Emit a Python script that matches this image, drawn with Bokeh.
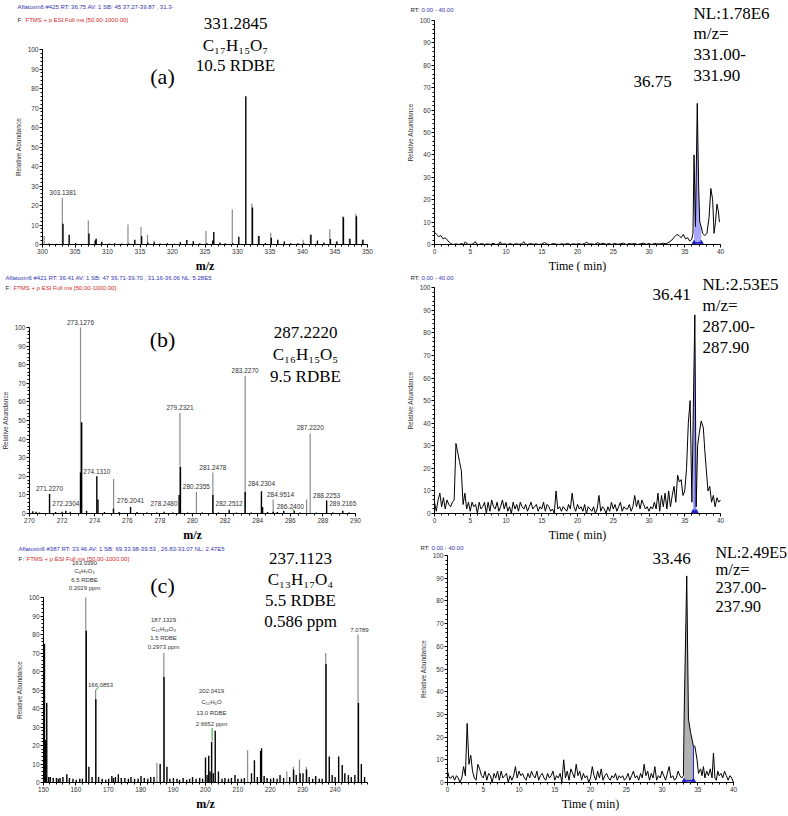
import numpy as np
from bokeh.plotting import figure
from bokeh.models import Range1d, FixedTicker, Label
from bokeh.layouts import column, row
from bokeh.embed import file_html
from bokeh.resources import INLINE

SANS = "Liberation Sans"
SERIF = "Liberation Serif"
HDR_BLUE = "#3434b4"
HDR_RED = "#d42a2a"
PEAK_GRAY = "#8c8c8c"
INT_BLUE = "#2020d0"

# ---------------- data ----------------
Y_TICKS = list(range(0, 101, 10))
Y_MINOR = list(range(0, 101, 2))
A_MZ_TICKS = list(range(300, 351, 5))
B_MZ_TICKS = list(range(270, 291, 2))
C_MZ_TICKS = list(range(150, 241, 10))
RT_TICKS = list(range(0, 41, 5))

# (m/z, relative abundance)
SPEC_A_BLACK = [(303.15, 10.6), (304.1, 5.0), (305.1, 0.8), (307.15, 5.7), (308.1, 2.0), (308.25, 3.0),
                (309.1, 1.3), (311.1, 0.6), (312.2, 0.5), (314.2, 2.5), (315.25, 4.2), (316.2, 1.0),
                (317.2, 1.0), (318.1, 0.5), (319.2, 0.7), (321.2, 1.2), (322.2, 2.3), (323.2, 1.7),
                (324.2, 0.6), (326.2, 2.0), (326.35, 6.4), (327.3, 1.0), (328.1, 0.6), (330.2, 4.0),
                (331.28, 76.0), (332.3, 19.0), (333.3, 4.3), (334.3, 0.8), (335.2, 3.5), (336.2, 2.4),
                (337.2, 1.5), (338.2, 0.7), (339.3, 0.6), (340.2, 0.6), (341.3, 5.0), (342.3, 2.0),
                (343.3, 1.0), (344.3, 2.8), (345.3, 1.5), (346.3, 14.0), (347.3, 3.0), (348.3, 14.5),
                (349.3, 2.4), (301.0, 0.5), (302.2, 0.4), (306.0, 0.3), (310.3, 0.5), (313.3, 0.5),
                (320.3, 0.4), (325.3, 0.6), (329.3, 0.6)]
SPEC_A_GRAY = [(300.25, 4.3), (303.05, 24.0), (307.05, 12.3), (308.2, 2.5), (309.15, 1.5), (313.15, 10.2),
               (315.15, 9.0), (316.15, 5.0), (317.15, 2.0), (325.15, 7.1), (329.2, 18.0), (332.2, 21.0),
               (333.2, 4.5), (335.1, 6.0), (340.1, 2.4), (341.2, 5.0), (344.2, 8.0), (345.2, 1.5),
               (346.2, 14.6), (347.2, 3.0), (348.2, 15.8), (349.2, 2.4)]
SPEC_A_LABELS = [("303.1381", 303.14, 26.5)]

SPEC_B_BLACK = [(270.2, 1.2), (270.4, 1.0), (270.6, 0.5), (271.23, 10.5), (271.6, 0.8), (272.0, 1.0),
                (272.23, 1.5), (272.5, 1.0), (273.13, 22.0), (273.2, 49.0), (273.5, 1.5), (274.13, 20.0),
                (274.2, 7.5), (274.6, 0.8), (275.15, 2.5), (275.5, 0.8), (276.2, 3.5), (276.6, 0.8),
                (277.2, 0.5), (277.8, 0.5), (278.25, 1.0), (278.8, 0.5), (279.18, 10.0), (279.26, 25.0),
                (279.7, 0.6), (280.6, 0.5), (281.25, 10.0), (281.6, 0.6), (282.25, 2.0), (282.7, 0.5),
                (283.23, 11.5), (283.6, 0.6), (284.23, 12.0), (284.3, 3.5), (284.6, 0.8), (284.95, 1.0),
                (285.2, 0.8), (285.6, 1.5), (286.24, 1.5), (286.6, 0.5), (287.6, 0.5), (288.23, 7.0),
                (288.6, 0.6), (289.22, 1.5), (289.6, 0.6)]
SPEC_B_GRAY = [(273.13, 100.0), (279.23, 54.0), (283.23, 74.0), (287.22, 43.0), (275.16, 18.5),
               (280.24, 11.5), (281.25, 22.0), (284.95, 7.5), (287.0, 7.5)]
SPEC_B_LABELS = [("273.1276", 273.13, 102.5), ("279.2321", 279.23, 57.0), ("283.2270", 283.23, 77.0),
                 ("287.2220", 287.22, 46.5), ("274.1310", 274.13, 22.7), ("271.2270", 271.23, 13.4),
                 ("272.2304", 272.23, 5.4), ("276.2041", 276.2, 7.0), ("278.2480", 278.25, 5.4),
                 ("280.2355", 280.24, 14.5), ("281.2478", 281.25, 25.0), ("282.2512", 282.25, 5.4),
                 ("284.2304", 284.23, 16.0), ("284.9514", 285.4, 10.2), ("286.2400", 286.0, 3.6),
                 ("288.2253", 288.23, 9.7), ("289.2165", 289.22, 5.4)]

SPEC_C_GRAY = [(163.04, 100.0), (187.13, 70.0), (237.11, 70.0), (247.08, 80.0), (166.09, 50.0),
               (185.0, 10.5), (213.0, 17.5), (229.0, 12.5), (227.1, 8.5), (231.1, 8.5), (225.1, 6.0)]
SPEC_C_BLACK = [(150.3, 75), (150.6, 23), (151.0, 43), (151.6, 3), (152.1, 3), (153.0, 2.5), (154.0, 2.5),
                (154.6, 2), (155.1, 2.5), (156.0, 3), (157.2, 4.5), (158.0, 2.5), (159.1, 2), (160.1, 1.5),
                (161.2, 2), (162.0, 2), (163.2, 82), (164.0, 8.5), (165.0, 3), (166.15, 45), (167.0, 3),
                (168.1, 2), (169.2, 1.5), (170.1, 2), (171.1, 3.5), (171.6, 2.5), (172.2, 3), (173.1, 4.5),
                (174.0, 2.5), (175.1, 2.5), (176.2, 2), (177.0, 3), (178.1, 2), (179.2, 2), (180.1, 3.5),
                (181.1, 2.5), (182.2, 2), (183.1, 3), (184.1, 3), (186.0, 10), (187.2, 57), (188.1, 8.5),
                (189.0, 2), (190.1, 2.5), (191.2, 2), (192.0, 1.5), (193.1, 2.5), (194.2, 1.5), (195.1, 2),
                (196.0, 3), (197.1, 2), (198.2, 2.5), (199.1, 2), (200.0, 13.5), (200.5, 4), (201.0, 14.5),
                (201.4, 6), (201.9, 22), (202.4, 5), (203.0, 28), (204.0, 6), (205.1, 2), (206.0, 2.5),
                (207.1, 2), (208.0, 2.5), (209.1, 4), (210.0, 2), (211.1, 2), (212.0, 2.5), (214.2, 5),
                (215.1, 12), (216.0, 3), (217.0, 17), (217.3, 18.5), (218.1, 3.5), (219.0, 2.5), (220.1, 2),
                (221.0, 2.5), (222.1, 2), (223.0, 4), (224.1, 2.5), (226.0, 3), (227.2, 7), (228.0, 4),
                (229.2, 5), (230.1, 5), (231.2, 7), (232.0, 3), (233.1, 2), (234.0, 3.5), (235.1, 2),
                (236.0, 2), (237.2, 64), (238.2, 14), (239.1, 4), (240.0, 3), (241.1, 14), (242.2, 9.5),
                (243.0, 5), (244.1, 4), (245.0, 3), (246.1, 4), (247.2, 43), (248.1, 10), (249.1, 3)]

# chromatograms: (time in min, relative abundance)
XIC_A = [(0.0, 5.5), (0.3, 4.5), (0.6, 3.5), (0.9, 4.0), (1.2, 2.5), (1.5, 3.0), (1.8, 2.0), (2.1, 0.8),
         (2.4, 0.2), (2.7, 0.0), (3.0, 0.3), (3.4, 0.0), (3.8, 0.4), (4.1, 0.0), (4.3, 1.2), (4.6, 0.2),
         (5.0, 0.0), (5.4, 0.3), (5.7, 1.3), (5.9, 0.2), (6.2, 0.0), (6.6, 0.4), (7.0, 0.0), (7.4, 0.3),
         (7.8, 0.0), (8.2, 0.5), (8.6, 0.0), (9.0, 0.2), (9.2, 1.2), (9.4, 0.1), (9.8, 0.3), (10.2, 0.0),
         (10.6, 0.4), (11.0, 0.0), (11.4, 0.3), (11.8, 0.1), (12.2, 0.3), (12.5, 1.2), (12.7, 0.2),
         (13.0, 0.0), (13.4, 0.4), (13.8, 0.1), (14.2, 0.3), (14.6, 0.0), (15.0, 0.2), (15.4, 0.9),
         (15.8, 0.1), (16.2, 0.0), (16.6, 0.4), (17.0, 0.2), (17.4, 0.0), (17.8, 0.3), (18.2, 0.1),
         (18.6, 0.5), (19.0, 0.0), (19.4, 0.3), (19.8, 0.1), (20.2, 0.4), (20.6, 0.0), (21.0, 0.5),
         (21.3, 1.0), (21.6, 0.2), (22.0, 0.3), (22.4, 0.0), (22.8, 0.8), (23.2, 0.2), (23.6, 0.5),
         (24.0, 0.1), (24.4, 0.4), (24.8, 0.0), (25.2, 0.5), (25.6, 0.1), (26.0, 0.3), (26.4, 0.6),
         (26.8, 0.0), (27.2, 0.4), (27.6, 0.2), (28.0, 0.5), (28.4, 0.0), (28.8, 0.3), (29.2, 0.6),
         (29.6, 0.1), (30.0, 0.4), (30.4, 0.0), (30.8, 0.5), (31.2, 0.2), (31.6, 0.3), (32.0, 0.6),
         (32.4, 0.3), (32.8, 1.0), (33.2, 2.0), (33.6, 3.5), (33.9, 4.5), (34.2, 4.0), (34.5, 3.0),
         (34.8, 4.5), (35.1, 2.5), (35.4, 3.0), (35.7, 1.5), (36.0, 2.5), (36.15, 5.0), (36.3, 40.0),
         (36.5, 8.0), (36.75, 63.0), (36.95, 25.0), (37.1, 10.0), (37.3, 8.0), (37.5, 5.0), (37.8, 4.0),
         (38.1, 5.0), (38.4, 12.0), (38.65, 25.0), (38.9, 20.0), (39.1, 5.0), (39.3, 10.0), (39.5, 18.0),
         (39.7, 15.0), (39.85, 10.0)]
XIC_B = [(0.0, 5), (0.25, 1), (0.5, 6), (0.75, 9), (1.0, 3), (1.25, 7), (1.5, 2), (1.75, 6),
         (2.0, 4), (2.25, 3), (2.5, 5), (2.75, 6), (3.0, 31), (3.25, 27), (3.5, 23), (3.75, 19),
         (4.0, 4), (4.25, 9), (4.5, 2), (4.75, 5), (5.0, 1), (5.25, 5), (5.5, 3), (5.75, 4),
         (6.0, 0), (6.25, 5), (6.5, 2), (6.75, 3), (7.0, 5), (7.25, 0), (7.5, 5), (7.75, 1),
         (8.0, 6), (8.25, 3), (8.5, 2), (8.75, 5), (9.0, 1), (9.25, 3), (9.5, 6), (9.75, 2),
         (10.0, 5), (10.25, 1), (10.5, 3), (10.75, 0), (11.0, 5), (11.25, 2), (11.5, 4), (11.75, 1),
         (12.0, 5), (12.25, 3), (12.5, 2), (12.75, 4), (13.0, 1), (13.25, 3), (13.5, 5), (13.75, 2),
         (14.0, 3), (14.25, 4), (14.5, 1), (14.75, 3), (15.0, 2), (15.25, 5), (15.5, 1), (15.75, 4),
         (16.0, 3), (16.25, 1), (16.5, 2), (16.75, 0), (17.0, 10), (17.25, 2), (17.5, 3), (17.75, 1),
         (18.0, 3), (18.25, 2), (18.5, 1), (18.75, 4), (19.0, 2), (19.25, 9), (19.5, 3), (19.75, 1),
         (20.0, 4), (20.25, 2), (20.5, 3), (20.75, 1), (21.0, 4), (21.25, 0), (21.5, 3), (21.75, 2),
         (22.0, 1), (22.25, 3), (22.5, 0), (22.75, 2), (23.0, 8), (23.25, 1), (23.5, 3), (23.75, 2),
         (24.0, 0), (24.25, 3), (24.5, 1), (24.75, 5), (25.0, 2), (25.25, 4), (25.5, 1), (25.75, 3),
         (26.0, 5), (26.25, 1), (26.5, 3), (26.75, 2), (27.0, 2), (27.25, 4), (27.5, 1), (27.75, 3),
         (28.0, 8), (28.25, 3), (28.5, 6), (28.75, 2), (29.0, 6), (29.25, 4), (29.5, 2), (29.75, 3),
         (30.0, 1), (30.25, 3), (30.5, 2), (30.75, 5), (31.0, 2), (31.25, 9), (31.5, 1), (31.75, 8),
         (32.0, 3), (32.25, 9), (32.5, 2), (32.75, 10), (33.0, 3), (33.25, 8), (33.5, 12), (33.75, 5),
         (34.0, 17), (34.25, 14), (34.5, 15), (34.75, 8), (35.0, 10), (35.25, 20), (35.5, 40), (35.75, 50),
         (36.0, 5), (36.2, 47), (36.41, 88), (36.6, 3), (36.8, 30), (37.0, 35), (37.3, 41), (37.6, 38),
         (37.8, 28), (38.0, 20), (38.25, 10), (38.5, 12), (38.75, 5), (39.0, 8), (39.25, 3), (39.5, 7),
         (39.75, 5), (40.0, 6)]
XIC_C = [(0.0, 5), (0.25, 2), (0.5, 2), (0.75, 3), (1.0, 1), (1.25, 3), (1.5, 2), (1.75, 0),
         (2.0, 2), (2.25, 7), (2.5, 3), (2.75, 26), (3.0, 8), (3.25, 12), (3.5, 5), (3.75, 2),
         (4.0, 1), (4.25, 8), (4.5, 6), (4.75, 3), (5.0, 2), (5.25, 5), (5.5, 1), (5.75, 4),
         (6.0, 3), (6.25, 0), (6.5, 4), (6.75, 2), (7.0, 5), (7.25, 1), (7.5, 5), (7.75, 2),
         (8.0, 3), (8.25, 4), (8.5, 0), (8.75, 3), (9.0, 1), (9.25, 3), (9.5, 7), (9.75, 2),
         (10.0, 5), (10.25, 3), (10.5, 4), (10.75, 2), (11.0, 1), (11.25, 4), (11.5, 2), (11.75, 5),
         (12.0, 3), (12.25, 2), (12.5, 5), (12.75, 1), (13.0, 3), (13.25, 4), (13.5, 2), (13.75, 1),
         (14.0, 4), (14.25, 2), (14.5, 3), (14.75, 5), (15.0, 1), (15.25, 3), (15.5, 2), (15.75, 4),
         (16.0, 0), (16.25, 10), (16.5, 2), (16.75, 5), (17.0, 1), (17.25, 6), (17.5, 4), (17.75, 2),
         (18.0, 8), (18.25, 3), (18.5, 5), (18.75, 1), (19.0, 4), (19.25, 2), (19.5, 3), (19.75, 0),
         (20.0, 2), (20.25, 7), (20.5, 3), (20.75, 1), (21.0, 5), (21.25, 2), (21.5, 6), (21.75, 1),
         (22.0, 3), (22.25, 4), (22.5, 2), (22.75, 1), (23.0, 3), (23.25, 2), (23.5, 4), (23.75, 1),
         (24.0, 3), (24.25, 2), (24.5, 3), (24.75, 1), (25.0, 2), (25.25, 4), (25.5, 1), (25.75, 3),
         (26.0, 5), (26.25, 2), (26.5, 3), (26.75, 1), (27.0, 4), (27.25, 2), (27.5, 8), (27.75, 3),
         (28.0, 5), (28.25, 1), (28.5, 4), (28.75, 2), (29.0, 7), (29.25, 1), (29.5, 3), (29.75, 2),
         (30.0, 5), (30.25, 3), (30.5, 1), (30.75, 4), (31.0, 7), (31.25, 2), (31.5, 3), (31.75, 1),
         (32.0, 2), (32.25, 5), (32.5, 3), (32.75, 2), (33.0, 3), (33.1, 30), (33.46, 91), (33.7, 28),
         (34.0, 22), (34.4, 16), (34.6, 16), (34.9, 10), (35.1, 4), (35.4, 6), (35.6, 3), (35.8, 7),
         (36.0, 2), (36.25, 5), (36.5, 3), (36.75, 6), (37.0, 2), (37.2, 13), (37.4, 2), (37.6, 1),
         (37.8, 5), (38.0, 3), (38.25, 4), (38.5, 2), (38.75, 5), (39.0, 3), (39.25, 1), (39.5, 3),
         (39.75, 2), (40.0, 0)]
# integration windows (min)
INT_A = (36.3, 37.3)
INT_B = (36.2, 36.6)
INT_C = (33.1, 34.4)

# ---------------- geometry (px) ----------------
# fx, fy: figure's top-left on the page; fl: axis x offset; bb: space under the x axis
GA_L = dict(fx=0, fy=0, w=400, h=272, fl=42, bb=28, x0=300, sx=6.5, sy=1.95)
GA_R = dict(fx=400, fy=0, w=388, h=272, fl=34, bb=28, x0=0, sx=7.15, sy=2.24)
GB_L = dict(fx=0, fy=272, w=400, h=271, fl=29, bb=30, x0=270, sx=16.3, sy=1.86)
GB_R = dict(fx=400, fy=272, w=388, h=271, fl=34, bb=30, x0=0, sx=7.15, sy=2.257)
GC_L = dict(fx=0, fy=543, w=400, h=273, fl=43, bb=34, x0=150, sx=3.24, sy=1.85)
GC_R = dict(fx=400, fy=543, w=388, h=273, fl=47, bb=34, x0=0, sx=7.15, sy=2.27)


def make_panel(g, x_bounds, x_ticks, x_minor, x_label, bold):
    x_start = g["x0"] - g["fl"] / g["sx"]
    x_end = g["x0"] + (g["w"] - g["fl"]) / g["sx"]
    y_start = -g["bb"] / g["sy"]
    y_end = (g["h"] - g["bb"]) / g["sy"]
    p = figure(width=g["w"], height=g["h"], output_backend="svg", toolbar_location=None, title=None,
               x_range=Range1d(x_start, x_end), y_range=Range1d(y_start, y_end),
               min_border=0, min_border_left=0, min_border_right=0, min_border_top=0, min_border_bottom=0)
    p.outline_line_color = None
    p.xgrid.visible = False
    p.ygrid.visible = False
    p.background_fill_color = "white"
    p.border_fill_color = "white"
    xa = p.xaxis[0]
    ya = p.yaxis[0]
    xa.fixed_location = 0
    ya.fixed_location = g["x0"]
    xa.ticker = FixedTicker(ticks=x_ticks, minor_ticks=x_minor)
    xa.bounds = x_bounds
    ya.ticker = FixedTicker(ticks=Y_TICKS, minor_ticks=Y_MINOR)
    ya.bounds = (0, 100)
    for ax in (xa, ya):
        ax.axis_line_color = "black"
        ax.major_tick_line_color = "black"
        ax.minor_tick_line_color = "black"
        ax.major_tick_in = 0
        ax.minor_tick_in = 0
        ax.major_tick_out = 3
        ax.minor_tick_out = 2
        ax.major_label_text_font = SANS
        ax.major_label_text_font_size = "6.5px"
        ax.major_label_text_color = "#333333"
        ax.major_label_standoff = 1
    ya.axis_label = "Relative Abundance"
    ya.axis_label_text_font = SANS
    ya.axis_label_text_font_size = "6.5px"
    ya.axis_label_text_font_style = "normal"
    ya.axis_label_text_color = "#333333"
    ya.axis_label_standoff = 3
    xa.axis_label = x_label
    xa.axis_label_text_font = SERIF
    xa.axis_label_text_font_size = "12px"
    xa.axis_label_text_font_style = "bold" if bold else "normal"
    xa.axis_label_text_color = "black"
    xa.axis_label_standoff = 2
    return p


def put(p, g, rx, ry, text, size, font=SERIF, color="black", align="center"):
    x = g["x0"] + (rx - g["fx"] - g["fl"]) / g["sx"]
    y = (g["fy"] + g["h"] - g["bb"] - ry) / g["sy"]
    p.add_layout(Label(x=x, y=y, text=text, text_font=font, text_font_size=size, text_color=color,
                       text_align=align, text_baseline="middle"))


def put_data(p, x, y, text, size="6.5px", color="#333333"):
    p.add_layout(Label(x=x, y=y, text=text, text_font=SANS, text_font_size=size, text_color=color,
                       text_align="center", text_baseline="middle"))


def draw_spec(p, black, gray):
    mz, h = zip(*gray)
    p.segment(x0=list(mz), y0=0, x1=list(mz), y1=list(h), line_color=PEAK_GRAY, line_width=1.2)
    mz, h = zip(*black)
    p.segment(x0=list(mz), y0=0, x1=list(mz), y1=list(h), line_color="black", line_width=1.4)


def draw_xic(p, pts, win, fill_color, fill_alpha):
    t = np.array([q[0] for q in pts], dtype=float)
    y = np.array([q[1] for q in pts], dtype=float)
    m = (t >= win[0] - 1e-9) & (t <= win[1] + 1e-9)
    p.varea(x=t[m], y1=0, y2=y[m], fill_color=fill_color, fill_alpha=fill_alpha)
    p.line(t, y, line_color="black", line_width=1)
    p.segment(x0=win[0], y0=0.8, x1=win[1], y1=0.8, line_color=INT_BLUE, line_width=1.5)
    p.scatter(x=list(win), y=[0.8, 0.8], marker="triangle", size=4, color=INT_BLUE)
    return t, y


def header_left(p, g, rx, ry, line1, gap):
    put(p, g, rx, ry, line1, "6px", font=SANS, color=HDR_BLUE, align="left")
    put(p, g, rx, ry + gap, "F:", "6px", font=SANS, color="#222222", align="left")
    put(p, g, rx + 8, ry + gap, "FTMS + p ESI Full ms [50.00-1000.00]", "6px", font=SANS, color=HDR_RED, align="left")


def header_right(p, g, rx, ry):
    put(p, g, rx, ry, "RT:", "6px", font=SANS, color="#222222", align="left")
    put(p, g, rx + 11, ry, "0.00 - 40.00", "6px", font=SANS, color=HDR_BLUE, align="left")


RT_MINOR = list(range(0, 41, 1))

# ---------------- panel (a) ----------------
pa = make_panel(GA_L, (300, 350), A_MZ_TICKS, list(range(300, 351, 1)), "m/z", True)
draw_spec(pa, SPEC_A_BLACK, SPEC_A_GRAY)
for txt, x, y in SPEC_A_LABELS:
    put_data(pa, x, y, txt)
header_left(pa, GA_L, 17, 6, "Aflatoxin6 #425  RT: 36.75  AV: 1  SB: 45  37.27-39.87 , 31.3-", 13)
put(pa, GA_L, 235, 23, "331.2845", "17px")
put(pa, GA_L, 235, 45, "C\u2081\u2087H\u2081\u2085O\u2087", "17px")
put(pa, GA_L, 235, 65, "10.5 RDBE", "17px")
put(pa, GA_L, 162, 76, "(a)", "22px")

pa2 = make_panel(GA_R, (0, 40), RT_TICKS, RT_MINOR, "Time ( min)", False)
draw_xic(pa2, XIC_A, INT_A, "#8a8aff", 0.75)
header_right(pa2, GA_R, 410, 9)
put(pa2, GA_R, 693, 13, "NL:1.78E6", "17px", align="left")
put(pa2, GA_R, 693, 33, "m/z=", "17px", align="left")
put(pa2, GA_R, 693, 54, "331.00-", "17px", align="left")
put(pa2, GA_R, 693, 75, "331.90", "17px", align="left")
put(pa2, GA_R, 652, 81, "36.75", "17px")

# ---------------- panel (b) ----------------
pb = make_panel(GB_L, (270, 290), B_MZ_TICKS, [270 + 0.5 * i for i in range(41)], "m/z", True)
draw_spec(pb, SPEC_B_BLACK, SPEC_B_GRAY)
pb.segment(x0=286.24, y0=1.5, x1=286.1, y1=2.8, line_color="#2ca02c", line_width=1)
for txt, x, y in SPEC_B_LABELS:
    put_data(pb, x, y, txt)
header_left(pb, GB_L, 5, 277, "Aflatoxin6 #421  RT: 36.41  AV: 1  SB: 47  36.71-39.70 , 31.16-36.06  NL: 5.28E5", 10)
put(pb, GB_L, 162, 339, "(b)", "22px")
put(pb, GB_L, 305, 332, "287.2220", "17px")
put(pb, GB_L, 305, 354, "C\u2081\u2086H\u2081\u2085O\u2085", "17px")
put(pb, GB_L, 305, 376, "9.5 RDBE", "17px")

pb2 = make_panel(GB_R, (0, 40), RT_TICKS, RT_MINOR, "Time ( min)", False)
draw_xic(pb2, XIC_B, INT_B, "#6a6aff", 0.8)
header_right(pb2, GB_R, 410, 277)
put(pb2, GB_R, 702, 284, "NL:2.53E5", "17px", align="left")
put(pb2, GB_R, 702, 305, "m/z=", "17px", align="left")
put(pb2, GB_R, 702, 326, "287.00-", "17px", align="left")
put(pb2, GB_R, 702, 347, "287.90", "17px", align="left")
put(pb2, GB_R, 671, 294, "36.41", "17px")

# ---------------- panel (c) ----------------
pc = make_panel(GC_L, (150, 250), C_MZ_TICKS, list(range(150, 251, 2)), "m/z", True)
draw_spec(pc, SPEC_C_BLACK, SPEC_C_GRAY)
pc.segment(x0=202.04, y0=22.5, x1=202.04, y1=29.5, line_color="#2ca02c", line_width=1)
pc.segment(x0=166.09, y0=50, x1=167.0, y1=51.5, line_color="#2ca02c", line_width=1)
header_left(pc, GC_L, 18, 548, "Aflatoxin6 #387  RT: 33.46  AV: 1  SB: 69  33.98-39.53 , 26.83-33.07  NL: 2.47E5", 10)
put(pc, GC_L, 162, 585, "(c)", "22px")
put(pc, GC_L, 300, 558, "237.1123", "17px")
put(pc, GC_L, 300, 579, "C\u2081\u2083H\u2081\u2087O\u2084", "17px")
put(pc, GC_L, 300, 600, "5.5 RDBE", "17px")
put(pc, GC_L, 300, 621, "0.586 ppm", "17px")
for i, s in enumerate(["163.0390", "C\u2088H\u2087O\u2083", "6.5 RDBE", "0.2029 ppm"]):
    put(pc, GC_L, 84, 562 + 8.5 * i, s, "6px", font=SANS, color="#333333")
for i, s in enumerate(["187.1329", "C\u2081\u2080H\u2081\u2089O\u2083", "1.5 RDBE", "0.2973 ppm"]):
    put(pc, GC_L, 163, 619 + 9 * i, s, "6px", font=SANS, color="#333333")
for i, s in enumerate(["202.0419", "C\u2081\u2085H\u2086O", "13.0 RDBE", "2.6652 ppm"]):
    put(pc, GC_L, 211, 690 + 11 * i, s, "6px", font=SANS, color="#333333")
put(pc, GC_L, 100, 684, "166.0853", "6px", font=SANS, color="#333333")
put(pc, GC_L, 359, 629, "7.0789", "6px", font=SANS, color="#333333")

pc2 = make_panel(GC_R, (0, 40), RT_TICKS, RT_MINOR, "Time ( min)", False)
tc, yc = draw_xic(pc2, XIC_C, INT_C, "#a8a8a8", 0.9)
edge = yc[np.argmin(np.abs(tc - INT_C[1]))]
pc2.segment(x0=INT_C[1], y0=0, x1=INT_C[1], y1=edge, line_color=INT_BLUE, line_width=1)
header_right(pc2, GC_R, 420, 547)
put(pc2, GC_R, 715, 552, "NL:2.49E5", "16px", align="left")
put(pc2, GC_R, 715, 569, "m/z=", "16.5px", align="left")
put(pc2, GC_R, 715, 587, "237.00-", "16.5px", align="left")
put(pc2, GC_R, 715, 606, "237.90", "16.5px", align="left")
put(pc2, GC_R, 671, 558, "33.46", "17px")

layout = column(row(pa, pa2), row(pb, pb2), row(pc, pc2))
open("out.html", "w").write(file_html(layout, INLINE))
